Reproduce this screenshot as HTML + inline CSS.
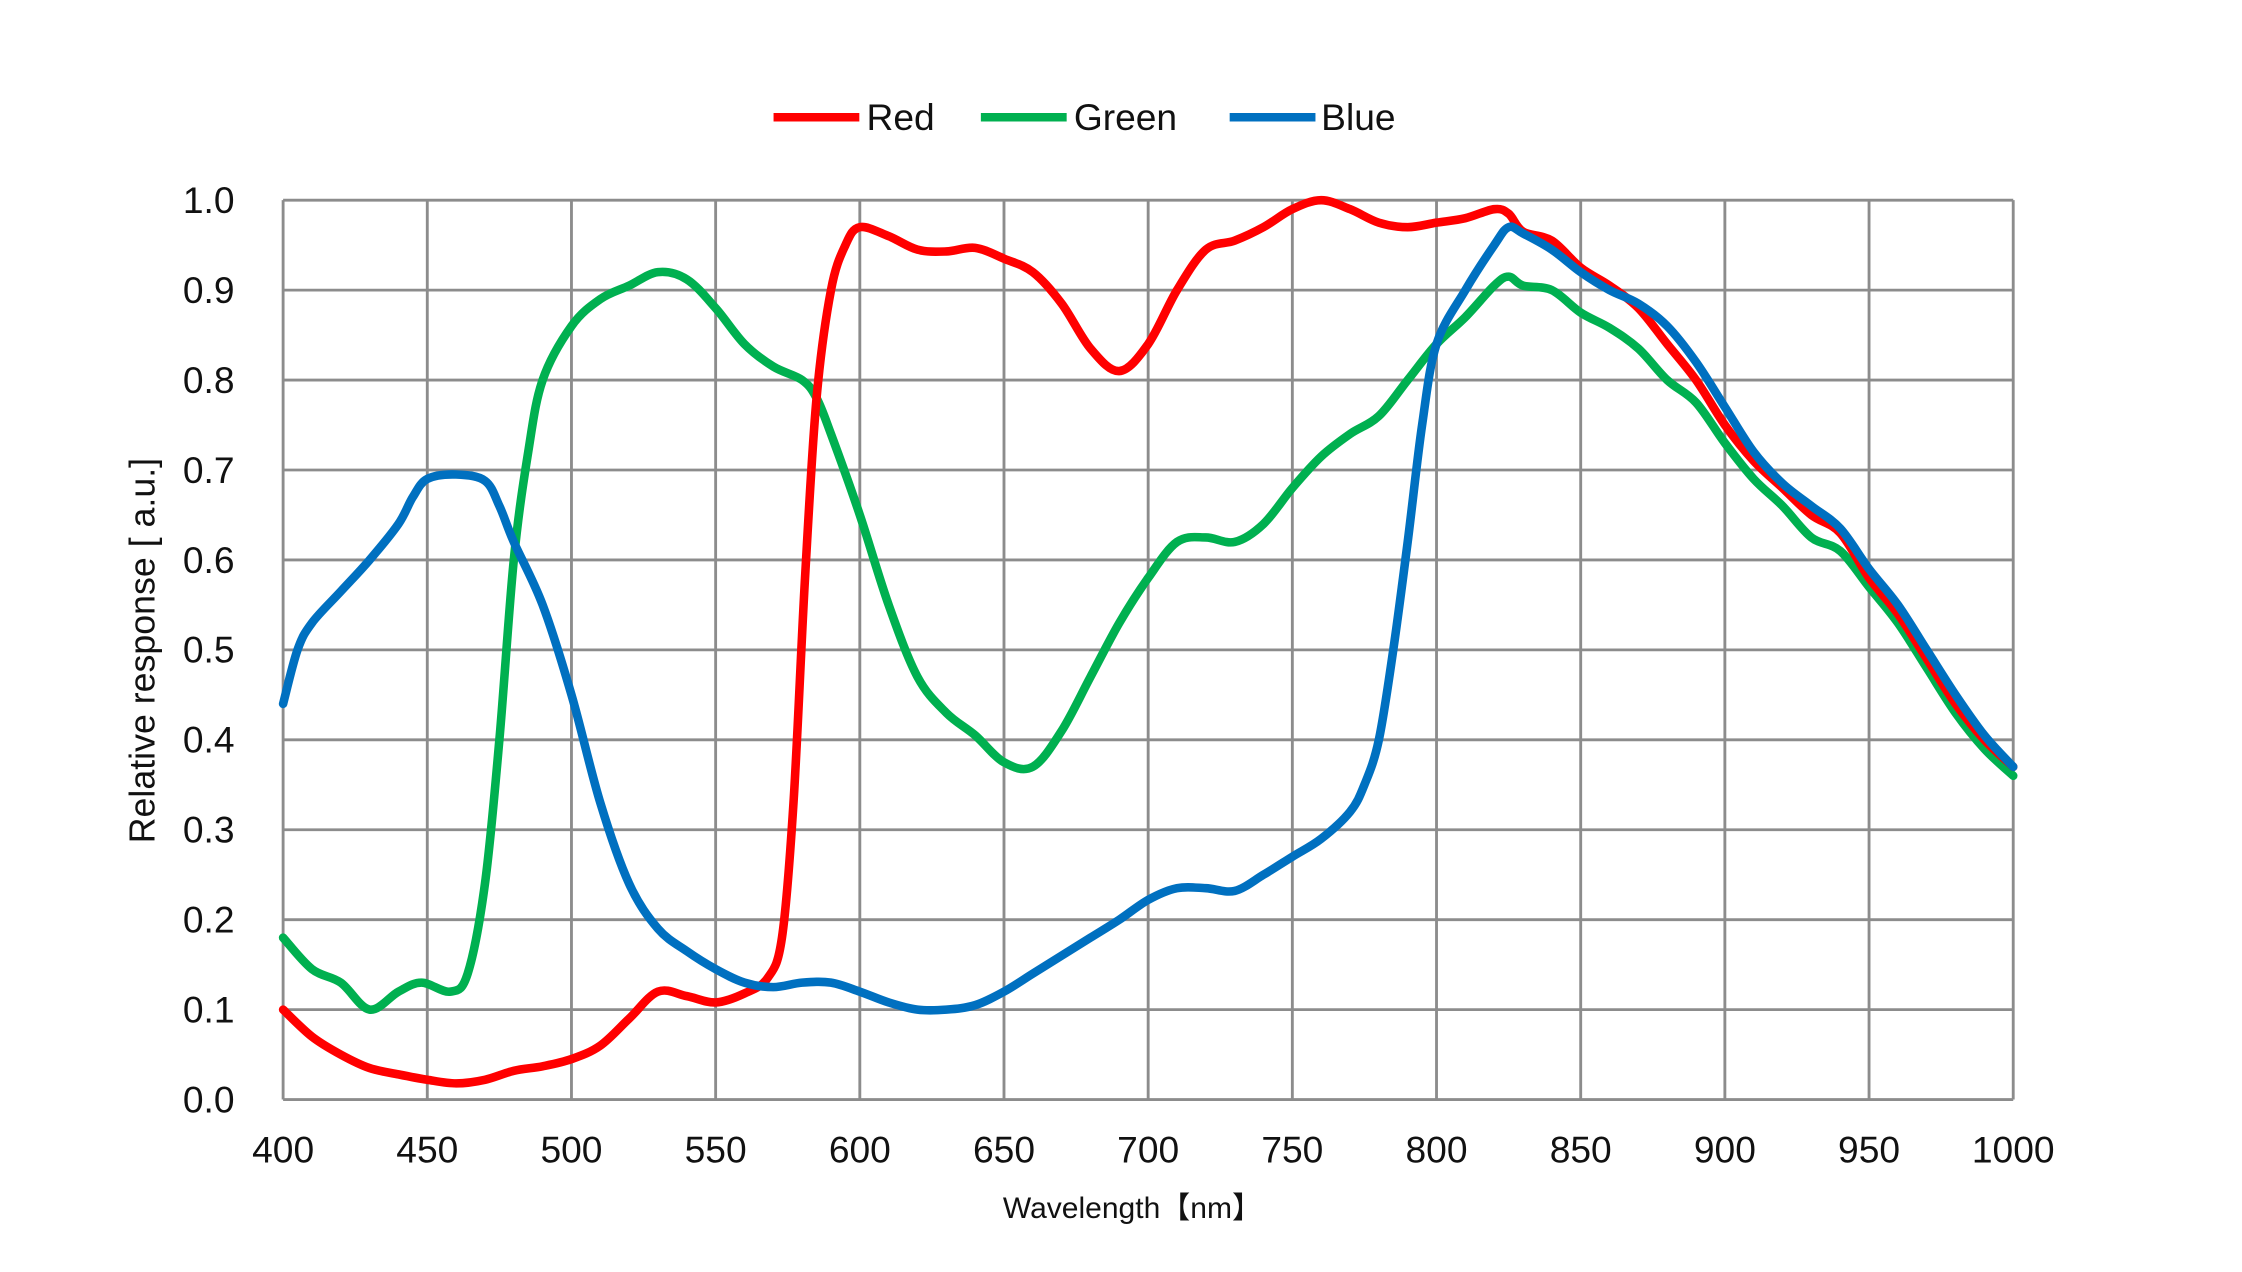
<!DOCTYPE html>
<html><head><meta charset="utf-8"><style>
html,body{margin:0;padding:0;background:#fff;}
svg{display:block;}
text{font-family:"Liberation Sans",sans-serif;fill:#111;}
</style></head><body>
<svg id="s" width="2242" height="1272" viewBox="0 0 1568 889.6" xmlns="http://www.w3.org/2000/svg">
<g id="grid" stroke="#8c8c8c" stroke-width="2" fill="none"></g>
<g id="labels" font-size="26"></g>
<text x="0" y="0" font-size="25" transform="translate(108,455) rotate(-90)" text-anchor="middle">Relative response [ a.u.]</text>
<text x="792" y="852" font-size="21" text-anchor="middle">Wavelength【nm】</text>
<line x1="541" y1="82" x2="601" y2="82" stroke="#ff0000" stroke-width="6"/>
<text x="606" y="91" font-size="26">Red</text>
<line x1="686" y1="82" x2="746" y2="82" stroke="#00b050" stroke-width="6"/>
<text x="751" y="91" font-size="26">Green</text>
<line x1="860" y1="82" x2="920" y2="82" stroke="#0070c0" stroke-width="6"/>
<text x="924" y="91" font-size="26">Blue</text>
<g id="curves" fill="none" stroke-width="6" stroke-linejoin="round" stroke-linecap="round"></g>
</svg>
<script>
var NS="http://www.w3.org/2000/svg";
function X(nm){return 198+(nm-400)*1210/600;}
function Y(v){return 769-v*629;}
var g=document.getElementById('grid'),lb=document.getElementById('labels');
function el(p,t,a){var e=document.createElementNS(NS,t);for(var k in a)e.setAttribute(k,a[k]);p.appendChild(e);return e;}
for(var i=0;i<=12;i++){var x=X(400+50*i);el(g,'line',{x1:x,y1:140,x2:x,y2:769});
var t=el(lb,'text',{x:x,y:813,'text-anchor':'middle'});t.textContent=400+50*i;}
for(var j=0;j<=10;j++){var y=Y(j/10);el(g,'line',{x1:198,y1:y,x2:1408,y2:y});
var t=el(lb,'text',{x:164,y:y+9,'text-anchor':'end'});t.textContent=(j/10).toFixed(1);}
var R=[[400,.1],[410,.07],[420,.05],[430,.035],[440,.028],[450,.022],[460,.018],[470,.022],[480,.032],[490,.037],[500,.045],[510,.06],[520,.09],[530,.12],[540,.115],[550,.108],[560,.118],[568,.135],[573,.18],[577,.33],[581,.58],[585,.78],[590,.9],[595,.95],[600,.97],[610,.96],[620,.945],[630,.943],[640,.947],[650,.935],[660,.92],[670,.885],[680,.835],[690,.81],[700,.84],[710,.9],[720,.945],[730,.955],[740,.97],[750,.99],[760,1.0],[770,.99],[780,.975],[790,.97],[800,.975],[810,.98],[820,.99],[825,.985],[830,.965],[840,.955],[850,.925],[860,.905],[870,.88],[880,.84],[890,.8],[900,.75],[910,.71],[920,.68],[930,.65],[940,.63],[950,.58],[960,.54],[970,.49],[980,.44],[990,.4],[1000,.37]];
var G=[[400,.18],[410,.145],[420,.13],[430,.1],[440,.12],[448,.13],[458,.12],[464,.14],[470,.24],[475,.4],[480,.6],[485,.72],[490,.8],[500,.86],[510,.89],[520,.905],[530,.92],[540,.912],[550,.88],[560,.84],[570,.815],[580,.8],[585,.78],[590,.74],[600,.65],[610,.55],[620,.47],[630,.43],[640,.405],[650,.375],[660,.37],[670,.41],[680,.47],[690,.53],[700,.58],[710,.62],[720,.625],[730,.62],[740,.64],[750,.68],[760,.715],[770,.74],[780,.76],[790,.8],[800,.84],[810,.87],[820,.905],[825,.915],[830,.905],[840,.9],[850,.875],[860,.858],[870,.835],[880,.8],[890,.775],[900,.73],[910,.69],[920,.66],[930,.625],[940,.61],[950,.57],[960,.53],[970,.48],[980,.43],[990,.39],[1000,.36]];
var B=[[400,.44],[405,.5],[410,.53],[420,.565],[430,.6],[440,.64],[445,.67],[450,.69],[460,.695],[470,.688],[475,.66],[480,.62],[490,.55],[500,.45],[510,.33],[520,.24],[530,.19],[540,.165],[550,.145],[560,.13],[570,.125],[580,.13],[590,.13],[600,.12],[610,.108],[620,.1],[630,.1],[640,.105],[650,.12],[660,.14],[670,.16],[680,.18],[690,.2],[700,.222],[710,.235],[720,.235],[730,.232],[740,.25],[750,.27],[760,.29],[770,.32],[775,.35],[780,.4],[785,.5],[790,.62],[795,.75],[800,.84],[810,.9],[820,.95],[825,.97],[830,.963],[840,.945],[850,.92],[860,.9],[870,.885],[880,.86],[890,.82],[900,.77],[910,.72],[920,.685],[930,.66],[940,.635],[950,.59],[960,.55],[970,.5],[980,.45],[990,.405],[1000,.37]];
function path(d){var p=d.map(function(a){return [X(a[0]),Y(a[1])];});var s='M'+p[0][0]+','+p[0][1];
for(var i=0;i<p.length-1;i++){var p0=p[i-1]||p[i],p1=p[i],p2=p[i+1],p3=p[i+2]||p2;
s+='C'+(p1[0]+(p2[0]-p0[0])/6)+','+(p1[1]+(p2[1]-p0[1])/6)+' '+(p2[0]-(p3[0]-p1[0])/6)+','+(p2[1]-(p3[1]-p1[1])/6)+' '+p2[0]+','+p2[1];}return s;}
var c=document.getElementById('curves');
el(c,'path',{d:path(G),stroke:'#00b050'});
el(c,'path',{d:path(R),stroke:'#ff0000'});
el(c,'path',{d:path(B),stroke:'#0070c0'});
</script>
</body></html>
